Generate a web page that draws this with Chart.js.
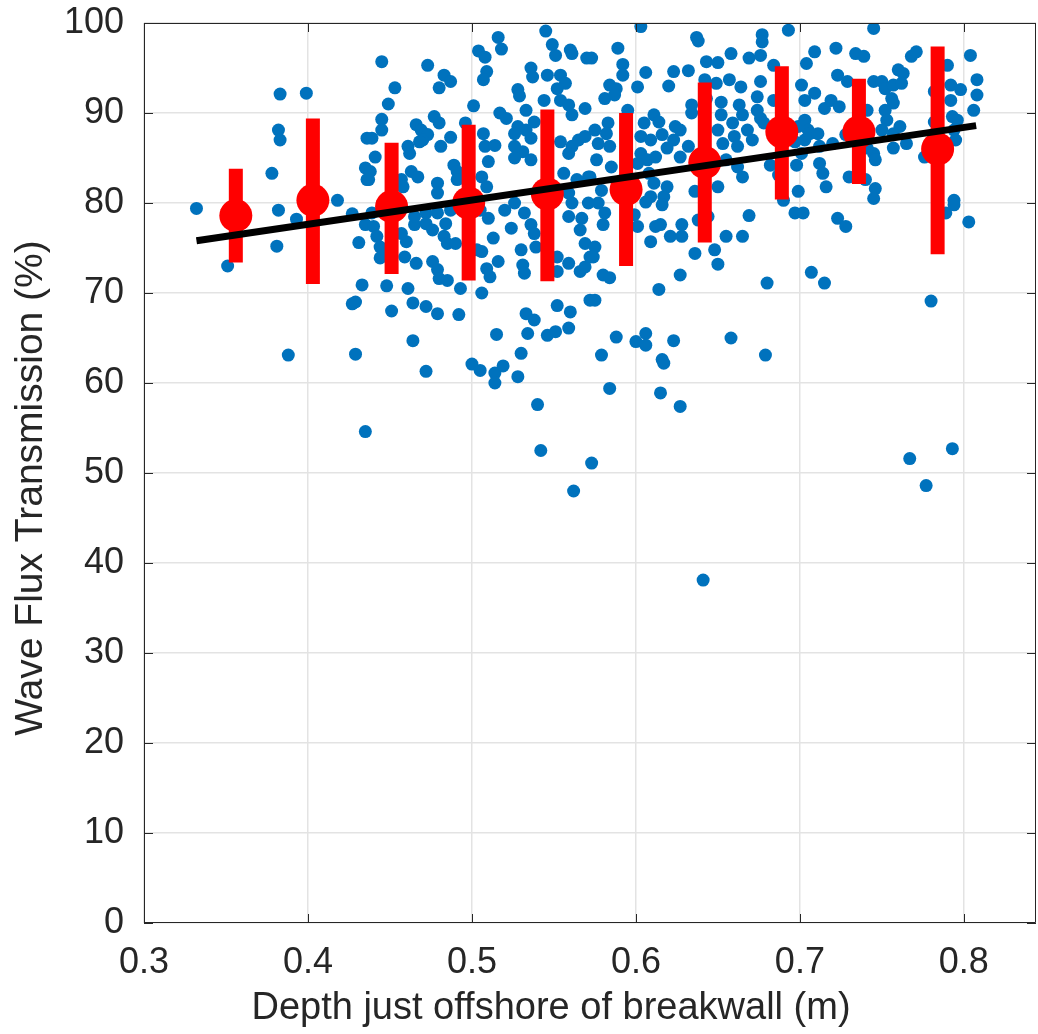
<!DOCTYPE html>
<html>
<head>
<meta charset="utf-8">
<script src="https://cdn.jsdelivr.net/npm/chart.js@4.4.0/dist/chart.umd.min.js"></script>
<style>
  html, body { margin: 0; padding: 0; background: #fff; }
</style>
</head>
<body>
<canvas id="chart" width="1038" height="1034"></canvas>
<script>
// Точки вимірювань: [глибина (м), пропускання (%)]
const samples = [
  [0.332,79.4],[0.351,73.0],[0.383,92.1],[0.399,92.2],[0.382,88.1],[0.383,87.0],[0.378,83.3],[0.418,80.3],[0.382,79.2],[0.393,78.2],
  [0.381,75.2],[0.427,78.8],[0.431,75.6],[0.433,70.9],[0.427,68.8],[0.429,69.0],[0.388,63.1],[0.429,63.2],[0.435,77.6],[0.435,54.6],
  [0.436,87.2],[0.435,83.9],[0.436,82.6],
  [0.445,95.7],[0.453,92.8],[0.449,91.0],[0.473,95.3],[0.483,94.2],[0.487,93.5],[0.480,92.8],[0.445,89.3],[0.445,88.1],[0.439,87.2],
  [0.441,85.1],[0.438,83.5],[0.437,82.6],[0.466,88.7],[0.469,88.1],[0.477,89.6],[0.480,88.9],[0.473,87.6],[0.470,87.0],[0.487,87.3],
  [0.496,88.9],[0.461,86.3],[0.462,85.5],[0.468,86.8],[0.481,86.3],[0.463,83.5],[0.467,82.9],[0.479,82.2],[0.489,84.2],[0.491,83.5],
  [0.507,87.7],[0.504,96.9],[0.508,96.2],[0.516,98.4],[0.518,97.1],[0.509,94.6],[0.507,93.7],[0.501,90.8],[0.517,90.0],[0.521,89.4],
  [0.528,92.6],[0.529,91.9],[0.533,90.3],[0.528,88.5],[0.536,95.0],[0.537,94.0],[0.545,99.1],[0.549,97.6],[0.551,96.4],[0.546,94.2],
  [0.544,91.4],[0.560,97.0],[0.561,96.6],[0.570,96.1],[0.554,94.2],[0.557,93.3],[0.552,92.7],[0.554,91.4],[0.559,90.9],[0.561,89.8],
  [0.569,90.5],[0.526,87.7],[0.533,88.1],[0.536,87.2],[0.538,89.0],[0.531,85.7],[0.536,84.8],[0.526,86.3],[0.526,85.0],[0.508,86.3],
  [0.514,86.4],[0.510,84.6],[0.506,82.9],[0.509,81.8],[0.554,86.8],[0.561,86.3],[0.565,87.0],[0.559,85.5],[0.569,87.4],[0.556,83.3],
  [0.564,82.6],[0.571,82.9],[0.559,81.1],[0.491,82.6],[0.479,81.1],[0.457,82.6],[0.458,81.8],
  [0.440,77.4],[0.442,76.3],[0.444,75.1],[0.444,73.9],[0.459,74.0],[0.466,73.3],[0.460,75.7],[0.465,77.6],[0.472,77.7],[0.476,77.0],
  [0.483,76.3],[0.485,75.5],[0.490,75.5],[0.484,77.7],[0.476,73.5],[0.479,72.6],[0.480,71.6],[0.485,71.4],[0.493,70.5],[0.448,70.8],
  [0.461,70.5],[0.464,68.9],[0.472,68.5],[0.479,67.7],[0.451,68.0],[0.492,67.6],[0.506,70.0],[0.464,64.7],[0.472,61.3],[0.500,62.1],
  [0.505,61.4],[0.514,61.1],[0.519,61.9],[0.528,60.7],[0.515,65.4],[0.530,63.3],[0.533,67.7],[0.538,67.0],[0.534,65.5],[0.546,65.3],
  [0.551,65.7],[0.559,66.1],[0.552,68.6],[0.560,67.9],[0.572,69.2],[0.511,71.8],[0.509,72.7],[0.516,73.5],[0.506,74.6],[0.513,76.1],
  [0.503,74.8],[0.498,76.8],[0.531,73.1],[0.532,72.2],[0.530,74.8],[0.539,75.1],[0.552,74.0],[0.559,73.3],[0.552,72.4],[0.566,72.4],
  [0.569,72.9],[0.572,74.0],[0.569,75.5],[0.566,77.0],[0.559,78.5],[0.567,78.3],[0.526,80.0],[0.532,78.9],[0.536,77.6],[0.538,76.6],
  [0.520,79.2],[0.524,77.2],[0.510,78.3],[0.505,79.2],[0.487,79.2],[0.479,78.9],[0.472,78.9],[0.465,78.5],[0.439,78.9],[0.571,80.0],
  [0.561,80.0],[0.457,76.6],[0.448,74.4],
  [0.514,60.0],[0.540,57.6],[0.542,52.5],[0.562,48.0],[0.573,51.1],
  [0.603,99.6],[0.637,98.4],[0.638,98.0],[0.677,98.7],[0.677,97.9],[0.693,99.2],[0.589,97.2],[0.573,96.1],[0.592,95.4],[0.592,94.2],
  [0.606,94.5],[0.584,93.1],[0.588,92.7],[0.581,91.6],[0.587,92.0],[0.601,92.9],[0.620,93.0],[0.623,94.6],[0.632,94.7],[0.643,95.7],
  [0.650,95.6],[0.658,96.6],[0.669,96.1],[0.676,96.4],[0.684,95.3],[0.704,95.5],[0.642,93.7],[0.649,93.3],[0.657,93.7],[0.664,92.9],
  [0.676,93.5],[0.674,91.8],[0.701,93.1],[0.703,91.4],[0.634,90.9],[0.643,91.6],[0.652,91.2],[0.663,90.9],[0.665,89.8],[0.674,90.3],
  [0.684,91.4],[0.595,90.3],[0.611,89.8],[0.614,89.0],[0.605,88.9],[0.624,88.5],[0.634,90.0],[0.652,89.8],[0.659,88.9],[0.676,89.4],
  [0.703,89.2],[0.705,88.1],[0.583,88.9],[0.575,88.1],[0.582,87.7],[0.577,86.6],[0.584,86.3],[0.576,84.8],[0.585,84.0],[0.603,87.4],
  [0.609,87.0],[0.616,87.6],[0.623,87.0],[0.627,88.1],[0.619,86.1],[0.603,85.5],[0.607,84.8],[0.612,85.1],[0.627,85.1],[0.632,86.3],
  [0.650,88.1],[0.653,86.6],[0.660,87.4],[0.668,88.1],[0.671,87.0],[0.662,86.3],[0.678,88.9],[0.699,88.5],[0.703,87.0],[0.706,87.7],
  [0.697,86.8],[0.701,85.5],[0.655,84.8],[0.662,84.0],[0.665,82.9],[0.650,81.8],[0.682,84.2],[0.698,84.2],[0.699,81.3],[0.687,83.1],
  [0.572,82.9],[0.579,81.4],[0.601,84.4],[0.608,83.3],[0.611,82.2],[0.619,81.8],[0.617,80.7],[0.636,81.3],[0.609,80.7],
  [0.577,80.0],[0.581,78.9],[0.580,77.6],[0.575,75.1],[0.574,74.0],[0.580,72.0],[0.584,71.7],[0.575,69.2],[0.599,78.7],[0.601,77.4],
  [0.606,80.1],[0.616,79.8],[0.612,77.4],[0.615,77.6],[0.609,75.7],[0.621,76.3],[0.628,77.6],[0.628,76.3],[0.636,74.4],[0.627,72.0],
  [0.614,70.4],[0.638,78.1],[0.644,78.5],[0.648,74.8],[0.650,73.2],[0.655,76.3],[0.665,76.3],[0.669,78.6],[0.680,71.1],[0.697,78.9],
  [0.702,78.9],[0.707,72.3],[0.690,80.3],[0.588,65.1],[0.600,64.6],[0.606,65.5],[0.606,64.2],[0.623,64.7],[0.658,65.0],[0.579,63.1],
  [0.616,62.6],[0.617,62.2],[0.679,63.1],
  [0.584,59.4],[0.615,58.9],[0.627,57.4],[0.641,38.1],
  [0.745,99.4],[0.722,97.2],[0.709,96.8],[0.734,96.6],[0.739,96.3],[0.768,96.3],[0.771,96.8],[0.804,96.4],[0.723,94.2],[0.729,93.5],
  [0.745,93.5],[0.750,93.5],[0.752,92.7],[0.757,93.1],[0.760,94.8],[0.763,94.4],[0.762,93.3],[0.790,95.3],[0.792,93.1],[0.798,92.6],
  [0.808,93.7],[0.808,92.0],[0.806,90.3],[0.792,91.4],[0.782,92.4],[0.756,91.6],[0.757,91.1],[0.752,90.3],[0.753,89.2],[0.761,88.5],
  [0.757,87.7],[0.750,88.1],[0.793,89.6],[0.796,89.2],[0.794,88.1],[0.795,87.0],[0.782,89.0],[0.715,90.5],[0.719,91.4],[0.724,90.7],
  [0.709,92.2],[0.741,90.3],[0.711,87.7],[0.720,86.6],[0.728,87.6],[0.712,86.3],[0.745,85.5],[0.746,84.8],[0.741,86.1],[0.757,86.1],
  [0.765,86.6],[0.776,85.1],[0.712,84.4],[0.714,83.3],[0.716,81.8],[0.730,82.9],[0.740,82.6],[0.746,81.6],[0.745,80.5],[0.794,80.3],
  [0.723,78.3],[0.728,77.4],[0.715,71.1],[0.780,69.1],[0.789,78.9],[0.794,79.8],[0.803,77.9],
  [0.767,51.6],[0.793,52.7],[0.777,48.6]
];

// Середні по інтервалах глибини та їх розкид
const binDepth = [0.356, 0.403, 0.451, 0.498, 0.546, 0.594, 0.642, 0.689, 0.736, 0.784];
const binMean  = [78.6, 80.3, 79.6, 80.0, 81.0, 81.5, 84.5, 87.9, 87.9, 86.0];
const binLow   = [73.4, 71.0, 72.1, 71.4, 71.3, 73.0, 75.6, 80.4, 82.1, 74.3];
const binHigh  = [83.8, 89.4, 86.7, 88.7, 90.4, 90.0, 93.4, 95.2, 93.8, 97.4];

// Лінія регресії (кінцеві точки)
const fitDepth = [0.332, 0.8075];
const fitFlux  = [75.8, 88.6];

// Поділки осей
const xTicks = [0.3, 0.4, 0.5, 0.6, 0.7, 0.8];
const yTicks = [0, 10, 20, 30, 40, 50, 60, 70, 80, 90, 100];

const xLabel = 'Depth just offshore of breakwall (m)';
const yLabel = 'Wave Flux Transmission (%)';

const axisColor = '#262626';
const fontFamily = '"Liberation Sans", Arial, Helvetica, sans-serif';

// Вертикальні відрізки розкиду, розділені null
const errorSegments = [];
binDepth.forEach((d, i) => {
  errorSegments.push({x: d, y: binLow[i]});
  errorSegments.push({x: d, y: binHigh[i]});
  errorSegments.push({x: d, y: null});
});

// Прибираємо додаткові відступи під підписи, щоб область графіка була як в оригіналі
function noLabelPadding(s) {
  s.paddingTop = 0;
  s.paddingBottom = 0;
  s.paddingLeft = 0;
  s.paddingRight = 0;
}

// Рамка осей з внутрішніми рисками, як у MATLAB
const axesFrame = {
  id: 'axesFrame',
  afterDatasetsDraw(chart) {
    const {ctx, chartArea: a, scales} = chart;
    const tick = 9;
    ctx.save();
    ctx.strokeStyle = axisColor;
    ctx.lineWidth = 1;
    ctx.beginPath();
    ctx.rect(a.left + 0.5, a.top + 0.5, a.right - a.left - 1, a.bottom - a.top - 1);
    xTicks.forEach(v => {
      const px = Math.round(scales.x.getPixelForValue(v)) + 0.5;
      ctx.moveTo(px, a.bottom); ctx.lineTo(px, a.bottom - tick);
      ctx.moveTo(px, a.top); ctx.lineTo(px, a.top + tick);
    });
    yTicks.forEach(v => {
      const py = Math.round(scales.y.getPixelForValue(v)) + 0.5;
      ctx.moveTo(a.left, py); ctx.lineTo(a.left + tick, py);
      ctx.moveTo(a.right, py); ctx.lineTo(a.right - tick, py);
    });
    ctx.stroke();
    ctx.restore();
  }
};

// Підписи осей: в оригіналі вони трохи зсунуті відносно центру області
const axisTitles = {
  id: 'axisTitles',
  afterDraw(chart) {
    const {ctx} = chart;
    ctx.save();
    ctx.fillStyle = axisColor;
    ctx.textAlign = 'center';
    ctx.textBaseline = 'middle';
    ctx.font = '38px ' + fontFamily;
    ctx.fillText(xLabel, 551, 1009);
    ctx.translate(31, 488);
    ctx.rotate(-Math.PI / 2);
    ctx.font = '39px ' + fontFamily;
    ctx.fillText(yLabel, 0, 0);
    ctx.restore();
  }
};

new Chart(document.getElementById('chart'), {
  type: 'scatter',
  data: {
    datasets: [
      {
        type: 'line',
        data: fitDepth.map((d, i) => ({x: d, y: fitFlux[i]})),
        borderColor: '#000000',
        borderWidth: 7,
        pointRadius: 0,
        order: 1
      },
      {
        type: 'scatter',
        data: binDepth.map((d, i) => ({x: d, y: binMean[i]})),
        backgroundColor: '#ff0000',
        borderWidth: 0,
        pointRadius: 16.5,
        order: 2
      },
      {
        type: 'line',
        data: errorSegments,
        borderColor: '#ff0000',
        borderWidth: 14,
        borderCapStyle: 'butt',
        spanGaps: false,
        pointRadius: 0,
        order: 3
      },
      {
        type: 'scatter',
        data: samples.map(p => ({x: p[0], y: p[1]})),
        backgroundColor: '#0072bd',
        borderWidth: 0,
        pointRadius: 6.5,
        order: 4
      }
    ]
  },
  options: {
    responsive: false,
    animation: false,
    events: [],
    layout: {autoPadding: false, padding: {left: 0, right: 2, top: 23, bottom: 0}},
    plugins: {
      legend: {display: false},
      tooltip: {enabled: false}
    },
    scales: {
      x: {
        type: 'linear',
        min: 0.3,
        max: 0.844,
        offset: false,
        grid: {color: '#e3e3e3', lineWidth: 1.5, drawTicks: false, offset: false},
        border: {display: false},
        afterBuildTicks: s => { s.ticks = xTicks.map(v => ({value: v})); },
        afterFit: s => { s.height = 111; noLabelPadding(s); },
        ticks: {
          color: axisColor,
          padding: 18,
          font: {family: fontFamily, size: 36},
          callback: v => v.toFixed(1)
        }
      },
      y: {
        type: 'linear',
        min: 0,
        max: 100,
        grid: {color: '#e3e3e3', lineWidth: 1.5, drawTicks: false},
        border: {display: false},
        afterBuildTicks: s => { s.ticks = yTicks.map(v => ({value: v})); },
        afterFit: s => { s.width = 144; noLabelPadding(s); },
        ticks: {
          color: axisColor,
          padding: 20,
          font: {family: fontFamily, size: 36},
          callback: v => String(v)
        }
      }
    }
  },
  plugins: [axesFrame, axisTitles]
});
</script>
</body>
</html>
